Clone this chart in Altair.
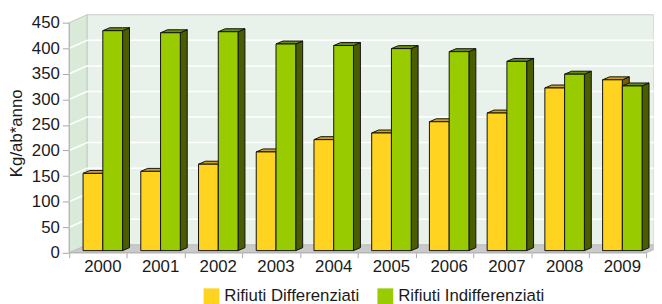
import altair as alt
import pandas as pd

# ---------------- data ----------------
years = ["2000", "2001", "2002", "2003", "2004", "2005", "2006", "2007", "2008", "2009"]
differenziati = [151, 155, 169, 193, 217, 230, 252, 269, 318, 334]
indifferenziati = [430, 426, 428, 404, 401, 395, 389, 370, 345, 322]
series_names = ["Rifiuti Differenziati", "Rifiuti Indifferenziati"]
y_ticks = [0, 50, 100, 150, 200, 250, 300, 350, 400, 450]
y_title = "Kg/ab*anno"

# ---------------- style / geometry ----------------
FONT = "Liberation Sans"
STEP_PX = 58.44          # pixels per category
K = 0.5178               # pixels per unit of value
PLOT_W, PLOT_H = 592, 242
XMIN = -34 / STEP_PX
XMAX = XMIN + PLOT_W / STEP_PX
YMAX = PLOT_H / K
BAR_W = 20 / STEP_PX
BAR_DX, BAR_DY = 7 / STEP_PX, 3 / K
WALL_DX, WALL_DY = 18 / STEP_PX, 8 / K
BASE = 2.2 / K
WALL_TOP = y_ticks[-1]
XF = XMIN + len(years)

COL = {
    0: dict(front="#FFD320", top="#CFA508", side="#7A5C00"),
    1: dict(front="#99CC00", top="#6B8E00", side="#4A5E00"),
}

xs = alt.Scale(domain=[XMIN, XMAX], nice=False, zero=False)
ysc = alt.Scale(domain=[0, YMAX], nice=False, zero=False)

AX_X = alt.Axis(values=[XMIN + k for k in range(len(years) + 1)], labels=False,
                domain=False, grid=False, ticks=True, tickSize=5,
                tickColor="#A8A8A8", title=None)
AX_Y = alt.Axis(values=y_ticks, domain=False, grid=False, ticks=True,
                tickSize=7, tickColor="#A8A8A8", labelFont=FONT,
                labelFontSize=17, labelColor="#1A1A1A",
                labelPadding=3, title=None)


def X(field="x"):
    return alt.X(f"{field}:Q", scale=xs, axis=AX_X)


def Y(field="y"):
    return alt.Y(f"{field}:Q", scale=ysc, axis=AX_Y, stack=None)


layers = []

# back wall
back = pd.DataFrame([dict(x=XMIN + WALL_DX, x2=XMAX, y=WALL_DY, y2=WALL_TOP + WALL_DY)])
layers.append(alt.Chart(back).mark_rect(fill="#E9F2EA", stroke="#C8CCC8", strokeWidth=1).encode(
    x=X(), x2="x2:Q", y=Y(), y2="y2:Q"))

# side wall
side_wall = pd.DataFrame([dict(x=XMIN, y=0, y2=WALL_TOP),
                          dict(x=XMIN + WALL_DX, y=WALL_DY, y2=WALL_TOP + WALL_DY)])
layers.append(alt.Chart(side_wall).mark_area(orient="vertical", fill="#D9EAD9", stroke="#C4C8C4",
                                             strokeWidth=1).encode(
    x=X(), y=Y(), y2="y2:Q"))

# gridlines
grid_back = pd.DataFrame([dict(x=XMIN + WALL_DX, x2=XMAX, y=v + WALL_DY) for v in y_ticks[1:-1]])
layers.append(alt.Chart(grid_back).mark_rule(color="white", strokeWidth=1.5).encode(
    x=X(), x2="x2:Q", y=Y()))
grid_side = pd.DataFrame([dict(x=XMIN, x2=XMIN + WALL_DX, y=v, y2=v + WALL_DY) for v in y_ticks[1:-1]])
layers.append(alt.Chart(grid_side).mark_rule(color="white", strokeWidth=1.5).encode(
    x=X(), x2="x2:Q", y=Y(), y2="y2:Q"))

# floor
floor = pd.DataFrame([dict(x=XMIN, y=0, y2=0),
                      dict(x=XMIN + WALL_DX, y=0, y2=WALL_DY),
                      dict(x=XF, y=0, y2=WALL_DY),
                      dict(x=XF + WALL_DX, y=WALL_DY, y2=WALL_DY)])
layers.append(alt.Chart(floor).mark_area(orient="vertical", fill="#CACACA", stroke="#BDBDBD",
                                         strokeWidth=1).encode(
    x=X(), y=Y(), y2="y2:Q"))

# front edges of side wall and floor
edges = pd.DataFrame([dict(x=XMIN, x2=XMIN, y=0, y2=WALL_TOP), dict(x=XMIN, x2=XF, y=0, y2=0)])
layers.append(alt.Chart(edges).mark_rule(color="#B0B0B0", strokeWidth=1).encode(
    x=X(), x2="x2:Q", y=Y(), y2="y2:Q"))

# bars
for s, vals in enumerate([differenziati, indifferenziati]):
    front, side, top = [], [], []
    for i, v in enumerate(vals):
        x0 = i - BAR_W if s == 0 else i
        x1 = x0 + BAR_W
        B, T = BASE, BASE + v
        front.append(dict(x=x0, x2=x1, y=B, y2=T))
        side += [dict(id=i, x=x1, y=B, y2=T),
                 dict(id=i, x=x1 + BAR_DX, y=B + BAR_DY, y2=T + BAR_DY)]
        top += [dict(id=i, x=x0, y=T, y2=T),
                dict(id=i, x=x0 + BAR_DX, y=T, y2=T + BAR_DY),
                dict(id=i, x=x1, y=T, y2=T + BAR_DY),
                dict(id=i, x=x1 + BAR_DX, y=T + BAR_DY, y2=T + BAR_DY)]
    c = COL[s]
    layers.append(alt.Chart(pd.DataFrame(side)).mark_area(
        orient="vertical", fill=c["side"], stroke="#111", strokeWidth=1, strokeJoin="miter").encode(
        x=X(), y=Y(), y2="y2:Q", detail="id:N"))
    layers.append(alt.Chart(pd.DataFrame(top)).mark_area(
        orient="vertical", fill=c["top"], stroke="#111", strokeWidth=1, strokeJoin="miter").encode(
        x=X(), y=Y(), y2="y2:Q", detail="id:N"))
    layers.append(alt.Chart(pd.DataFrame(front)).mark_rect(
        fill=c["front"], stroke="#111", strokeWidth=1).encode(
        x=X(), x2="x2:Q", y=Y(), y2="y2:Q"))

# year labels
lab = pd.DataFrame(dict(x=list(range(len(years))), t=years))
layers.append(alt.Chart(lab).mark_text(font=FONT, fontSize=17, color="#1A1A1A",
                                       baseline="middle", align="center").encode(
    x=X(), y=alt.value(256), text="t:N"))

# y title
ttl = pd.DataFrame(dict(t=[y_title]))
layers.append(alt.Chart(ttl).mark_text(font=FONT, fontSize=17, color="#1A1A1A", angle=270,
                                       baseline="middle", align="center").encode(
    x=alt.value(-53), y=alt.value(121), text="t:N"))

# legend
leg_x = [136, 312]
for s, name in enumerate(series_names):
    d = pd.DataFrame(dict(t=[name]))
    layers.append(alt.Chart(d).mark_rect(fill=COL[s]["front"]).encode(
        x=alt.value(leg_x[s]), x2=alt.value(leg_x[s] + 16), y=alt.value(278), y2=alt.value(294)))
    layers.append(alt.Chart(d).mark_text(font=FONT, fontSize=17, color="#1A1A1A",
                                         baseline="alphabetic", align="left").encode(
        x=alt.value(leg_x[s] + 21), y=alt.value(291), text="t:N"))

chart = alt.layer(*layers).properties(
    width=PLOT_W, height=PLOT_H,
    padding={"left": 62, "top": 4, "right": 0, "bottom": 50},
    autosize=alt.AutoSizeParams(type="none"),
).configure_view(stroke=None)

chart.save("out.html", embed_options={"renderer": "svg", "actions": False})
